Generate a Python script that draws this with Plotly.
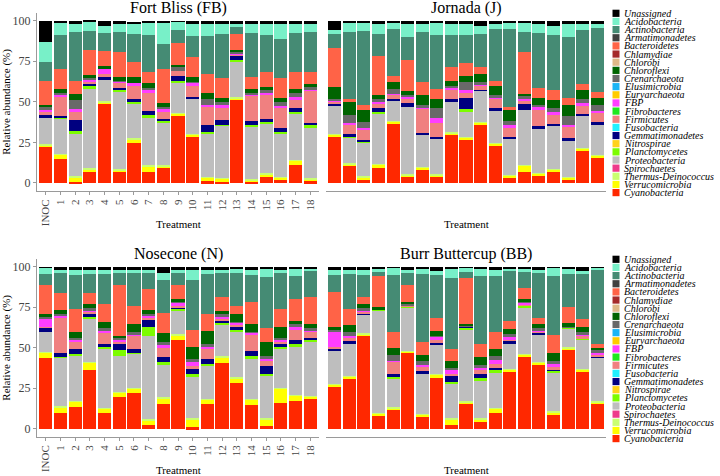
import plotly.graph_objects as go

W, H = 720, 476

treatments = ["INOC", "1", "2", "3", "4", "5", "6", "7", "8", "9",
              "10", "11", "12", "13", "14", "15", "16", "17", "18"]

# legend order (top of legend = top of stack)
taxa = ["Unassigned", "Acidobacteria", "Actinobacteria", "Armatimonadetes",
        "Bacteroidetes", "Chlamydiae", "Chlorobi", "Chloroflexi", "Crenarchaeota",
        "Elusimicrobia", "Euryarchaeota", "FBP", "Fibrobacteres", "Firmicutes",
        "Fusobacteria", "Gemmatimonadetes", "Nitrospirae", "Planctomycetes",
        "Proteobacteria", "Spirochaetes", "Thermus-Deinococcus",
        "Verrucomicrobia", "Cyanobacteria"]
taxa_colors = ["#000000", "#78F0C8", "#458B74", "#404040",
               "#FF6347", "#A52A2A", "#DEB887", "#006400", "#696969",
               "#1CB5F5", "#FFCC00", "#FF3EFF", "#1FE81F", "#F08080",
               "#22F0FF", "#000080", "#FFD21A", "#7CFC00",
               "#BEBEBE", "#EE3A8C", "#CAFF70",
               "#FFFF00", "#FF2800"]

# ---- Fort Bliss (FB)
fb_cyano = [22.5, 14.6, 0.5, 6.5, 49, 6.5, 24.5, 7, 9, 42, 28, 1, 0.5, 51.5, 0.5, 3.5, 1.5, 11, 1]
fb_verruco = [1, 3, 3, 2, 1, 1.5, 2.5, 3.5, 1.5, 1, 2, 2.5, 2.5, 1, 1.5, 2, 2, 3, 1.5]
fb_thermus = [0.3, 0.3, 0.5, 0.5, 0.3, 0.3, 0.5, 0.3, 0.3, 0.3, 0.3, 0.3, 0.3, 0.3, 0.3, 0.3, 0.3, 0.3, 0.3]
fb_proteo = [16.5, 22, 27, 49, 14, 48.5, 22, 30, 26.7, 18.7, 21.7, 26.7, 32.2, 22.2, 32.7, 31.2, 26.7, 28.7, 31.7]
fb_plancto = [0.3, 0.3, 1, 1.5, 0, 0.2, 0.5, 1, 1, 1, 0, 1, 0.5, 1, 0.5, 0.5, 1, 1, 1]
fb_gemmat = [1, 1.3, 7, 1.5, 0.7, 1.5, 1.5, 2.5, 1, 3, 1, 4.5, 2.5, 2, 2.5, 2, 2.5, 2, 1.5]
fb_firmic = [2, 11.5, 5, 2, 2, 3.5, 9, 11, 4.5, 3, 7, 10.5, 8.5, 1.5, 15.5, 15, 12.5, 5, 19.5]
fb_fbp = [2, 1.5, 1.5, 1, 3, 0.5, 1, 2, 2, 0, 2, 1.5, 1, 0.5, 1.5, 1.5, 1, 2, 1.5]
fb_crenarch = [1, 1, 5.5, 0.5, 0, 0.5, 0, 1.5, 1, 2.5, 0.5, 4, 2, 0.5, 0.5, 1, 2.5, 2.5, 1]
fb_chlorofl = [1.5, 2.5, 3.6, 2, 2, 2, 3.5, 2.5, 2, 1.5, 2.5, 3.5, 2.5, 1.5, 2.5, 2, 2.5, 2.5, 2]
fb_bacter = [15, 12, 8.4, 15.5, 9.5, 15.5, 9.5, 7, 21.5, 13.5, 12.5, 11.5, 12, 9.5, 7, 9.5, 12, 10.5, 7.5]
fb_actino = [11.5, 21, 30, 11.5, 11, 12.5, 17, 23, 15, 8, 13, 23.5, 27.5, 4.5, 27.5, 22.5, 24.5, 24, 24.5]
fb_acido = [12.5, 7.5, 5.8, 6, 4, 5.8, 6.5, 7, 13, 5, 7.5, 8.3, 6.8, 2, 6.3, 7.8, 9.8, 6.3, 5.8]
fb_unassigned = [12.5, 1.5, 1.2, 1, 3.5, 1.2, 1.5, 1.5, 1.5, 0.5, 2, 1.2, 1.2, 2, 1.2, 1.2, 1.2, 1.2, 1.2]

# ---- Jornada (J)
jo_cyano = [29, 11, 2.5, 9, 37, 4, 8.5, 4, 30, 26.5, 36, 23.5, 3.5, 7, 4.5, 7.5, 2.5, 20.5, 16]
jo_verruco = [1, 0.5, 1, 2.5, 1, 1, 1, 1, 1, 1.5, 1.5, 1, 1, 4, 1.5, 1, 1, 1, 1]
jo_thermus = [0.3, 0.5, 0.5, 0.3, 0.3, 0.3, 0.3, 0.3, 0.3, 0.3, 0.3, 0.3, 0.3, 0.3, 0.3, 0.3, 0.3, 0.3, 0.3]
jo_proteo = [17.5, 16.5, 21, 31.2, 12.7, 41.7, 20.2, 22.2, 18.7, 15.7, 19.2, 20.2, 22.2, 33.7, 27.2, 26.7, 22.2, 19.7, 19.2]
jo_plancto = [0, 0.5, 0.5, 0.5, 0, 0, 0, 0, 0, 1.5, 0, 0, 0, 0, 0, 0, 0, 0, 0]
jo_gemmat = [0.7, 1, 1, 2.5, 1, 2.5, 1, 1, 1.5, 7, 0.5, 1, 1.5, 3.5, 1.5, 1, 1.5, 1, 1]
jo_firmic = [2, 6, 6.5, 2.5, 2.5, 2.5, 15, 8.5, 5.5, 3.5, 2, 5.5, 6, 2, 10, 6, 7.5, 5.5, 6]
jo_fbp = [0.5, 1, 1, 1.5, 0.5, 1, 1, 3, 1.5, 1, 1.5, 1.5, 1, 1.5, 1.5, 1, 1, 1, 1]
jo_crenarch = [0.5, 5, 3.5, 1.5, 3, 1.5, 1, 6, 1.5, 5.5, 1, 1, 2.5, 1.5, 1.5, 2.5, 5, 3, 3.5]
jo_chlorofl = [7.5, 8, 7.5, 2.5, 4, 2, 6, 6, 3, 3.5, 5, 6, 7, 1.5, 4.5, 5, 7, 5, 4.5]
jo_bacter = [24, 2, 3, 24.5, 4, 19.5, 8, 6, 8.5, 8, 4.5, 3, 1.5, 25.5, 6, 6.5, 4.5, 4, 3.5]
jo_actino = [8.5, 41, 45.5, 13, 29, 14, 31, 33, 19.5, 17, 20.5, 32, 48.5, 12.5, 34, 33.5, 37.5, 33.5, 39.5]
jo_acido = [2.5, 5.5, 5, 7.3, 3.5, 8.8, 5.8, 7.5, 7.8, 6.8, 5, 3.8, 3.5, 5.5, 6.3, 6, 8.8, 4.3, 3.3]
jo_unassigned = [6, 1.5, 1.5, 1.2, 1.5, 1.2, 1.2, 1.5, 1.2, 2.2, 3, 1.2, 1.5, 1.5, 1.2, 3, 1.2, 1.2, 1.2]

# ---- Nosecone (N)
no_cyano = [43.5, 10, 13.5, 36.5, 9.5, 19.5, 22, 2.5, 15.5, 55, 1, 15, 40.5, 28, 14.5, 1.5, 16, 17, 18.5]
no_verruco = [3.5, 3.5, 3.5, 4.5, 3, 3, 3, 3, 3.5, 3, 5, 3, 4, 3.5, 3.5, 4.5, 9, 3.5, 1.5]
no_thermus = [0.3, 0.3, 0.3, 0.3, 0.3, 0.3, 0.3, 0.3, 0.3, 0.3, 0.3, 0.3, 0.3, 0.3, 0.3, 0.3, 0.3, 0.3, 0.3]
no_proteo = [12.7, 30.2, 28.2, 26.7, 36.7, 22.2, 21.2, 51.2, 20.7, 15.2, 25.7, 21.2, 19.7, 28.2, 24.7, 26.7, 23.7, 30.2, 33.7]
no_plancto = [0, 0.5, 0.5, 1, 1, 3.5, 0.5, 5.5, 1, 1, 1.5, 0.5, 0.5, 1, 2, 1, 1.5, 1, 0.5]
no_gemmat = [2.5, 2, 3, 1.5, 2, 3.5, 2.5, 5, 3, 0.5, 4, 3, 2, 2.5, 3, 4.5, 2, 3, 1.5]
no_firmic = [0.5, 22, 5, 2, 6.5, 1.5, 8, 1, 6.5, 0.5, 1, 6, 1, 1, 10.5, 3, 1.5, 6.5, 4]
no_fbp = [5.5, 1.5, 1, 1, 1.5, 1.5, 1, 1.5, 1, 2, 3.5, 2, 1.5, 1, 1, 1.5, 1, 1, 1]
no_crenarch = [0.5, 1, 1, 1, 1.5, 1, 1, 1, 2, 1.5, 1, 1, 1, 0.5, 0.5, 2, 1, 2, 1]
no_chlorofl = [1.5, 2.5, 3.5, 2.5, 4, 1.5, 5, 2.5, 5.5, 1, 7.5, 8.5, 2, 5, 4.5, 8.5, 6.5, 2, 2.5]
no_bacter = [18.5, 10, 14.5, 7, 11, 31, 11.5, 12.5, 12.5, 9, 10.5, 10, 8.5, 5, 14, 8.5, 11.5, 13.5, 17]
no_actino = [6.5, 12.5, 21, 11.5, 18.5, 7.5, 20, 10, 20, 7, 30.5, 25, 15, 20, 16.5, 31.5, 22, 14.5, 16]
no_acido = [4, 2.8, 3.8, 3.3, 3.3, 2.8, 2.8, 2.8, 4.5, 2, 7.3, 3.3, 2.8, 2.5, 3.8, 5.5, 2.8, 4, 1.8]
no_unassigned = [0.5, 1.2, 1.2, 1.2, 1.2, 1.2, 1.2, 1.2, 4, 2, 1.2, 1.2, 1.2, 1.5, 1.2, 1, 1.2, 1.5, 0.7]

# ---- Burr Buttercup (BB)
bb_cyano = [26, 30.5, 58, 8.5, 11.5, 47, 8, 31, 2.5, 15, 4, 10, 35.5, 45, 40, 8.5, 49, 35.5, 15.5]
bb_verruco = [1.5, 2, 0.5, 1, 1.5, 0.8, 1, 2.5, 3.5, 1.5, 2, 2.5, 1, 1, 1, 2, 1, 1, 1]
bb_thermus = [0.3, 0.3, 0.3, 0.3, 0.3, 0.3, 0.3, 0.3, 0.3, 0.3, 0.3, 0.3, 0.3, 0.3, 0.3, 0.3, 0.3, 0.3, 0.3]
bb_proteo = [20.2, 20.2, 11.7, 63.2, 17.7, 26.9, 24.7, 18.2, 21.7, 44.7, 23.7, 22.2, 16.2, 28.7, 17.2, 24.2, 11.7, 18.2, 27.7]
bb_plancto = [0, 0, 0, 1, 1, 0.5, 0, 0, 1, 1, 1, 1, 0, 0.5, 0, 0.5, 0.5, 0.5, 0]
bb_gemmat = [2, 1, 1, 0, 2, 0, 1.5, 1, 3.5, 1, 3, 1.5, 1, 0, 1, 1.5, 0, 0, 0.5]
bb_firmic = [0.5, 2.5, 1, 0, 7.5, 0.5, 3, 2, 1.5, 0, 2.5, 2.5, 1.5, 1.5, 0.5, 1, 0, 2, 1]
bb_fbp = [10, 1, 1, 0, 0.5, 0.5, 1, 2, 2, 0, 1, 2.5, 1, 1, 1, 2, 0, 0.5, 1]
bb_crenarch = [1, 2.5, 1, 0, 3.5, 1, 2.5, 0.5, 1.5, 0.5, 2, 2.5, 2, 1, 1, 2, 0.5, 1.5, 1.5]
bb_chlorofl = [1, 4, 2.5, 1, 4.5, 1, 3.5, 3, 4.5, 0.5, 4.5, 4, 3, 1, 2.5, 4.5, 2, 3.5, 1.5]
bb_bacter = [22, 10, 4, 19.5, 10, 10.5, 8, 8, 7.5, 28.5, 8.5, 11, 5, 7, 4, 11.5, 10, 5, 2]
bb_actino = [10.5, 21.5, 14, 2.5, 35, 7, 42, 26.5, 43.5, 4, 41.5, 34, 31, 10, 27.5, 36.5, 20.5, 27.5, 46.5]
bb_acido = [3.8, 3.3, 3.8, 2, 4.5, 2, 3.5, 2.5, 6, 2.5, 5, 4.8, 1.8, 2.3, 2.8, 5, 3.8, 2, 1]
bb_unassigned = [1.2, 1.2, 1.2, 1, 0.5, 2, 1, 2.5, 1, 0.5, 1, 1.2, 0.7, 0.7, 1.2, 0.5, 0.7, 2.5, 0.5]


def panel_data(cy, ve, th, pr, pl, ge, fi, fb, cr, cf, ba, ac, ad, un):
    return {"Cyanobacteria": cy, "Verrucomicrobia": ve, "Thermus-Deinococcus": th,
            "Proteobacteria": pr, "Planctomycetes": pl, "Gemmatimonadetes": ge,
            "Firmicutes": fi, "FBP": fb, "Crenarchaeota": cr, "Chloroflexi": cf,
            "Bacteroidetes": ba, "Actinobacteria": ac, "Acidobacteria": ad,
            "Unassigned": un}


panels = [
    ("Fort Bliss (FB)", panel_data(fb_cyano, fb_verruco, fb_thermus, fb_proteo, fb_plancto, fb_gemmat,
                                   fb_firmic, fb_fbp, fb_crenarch, fb_chlorofl, fb_bacter, fb_actino,
                                   fb_acido, fb_unassigned)),
    ("Jornada (J)", panel_data(jo_cyano, jo_verruco, jo_thermus, jo_proteo, jo_plancto, jo_gemmat,
                               jo_firmic, jo_fbp, jo_crenarch, jo_chlorofl, jo_bacter, jo_actino,
                               jo_acido, jo_unassigned)),
    ("Nosecone (N)", panel_data(no_cyano, no_verruco, no_thermus, no_proteo, no_plancto, no_gemmat,
                                no_firmic, no_fbp, no_crenarch, no_chlorofl, no_bacter, no_actino,
                                no_acido, no_unassigned)),
    ("Burr Buttercup (BB)", panel_data(bb_cyano, bb_verruco, bb_thermus, bb_proteo, bb_plancto, bb_gemmat,
                                       bb_firmic, bb_fbp, bb_crenarch, bb_chlorofl, bb_bacter, bb_actino,
                                       bb_acido, bb_unassigned)),
]

SERIF = "Liberation Serif, Times New Roman, serif"
AXIS_GREY = "#9a9a9a"

# pixel boxes of the four plot areas (left, right, top, bottom)
boxes = [(37, 319, 12.6, 191), (326, 606, 12.6, 191),
         (37, 319, 258.6, 436.8), (326, 606, 258.6, 436.8)]

fig = go.Figure()
color_of = dict(zip(taxa, taxa_colors))

for k, (title, data) in enumerate(panels):
    xa = "x" if k == 0 else f"x{k + 1}"
    ya = "y" if k == 0 else f"y{k + 1}"
    for name in reversed(taxa):
        if name not in data:
            continue
        fig.add_trace(go.Bar(x=treatments, y=data[name], name=name, xaxis=xa, yaxis=ya,
                             marker=dict(color=color_of[name], line=dict(width=0)),
                             showlegend=False))

layout = {}
annotations = []
for k, (title, data) in enumerate(panels):
    l, r, t, b = boxes[k]
    left_col = (k % 2 == 0)
    sfx = "" if k == 0 else str(k + 1)
    layout["xaxis" + sfx] = dict(
        domain=[l / W, r / W], anchor="y" + sfx, type="category",
        range=[-0.6, 18.6], tickangle=-90, showline=True, linecolor=AXIS_GREY,
        linewidth=1, ticks="outside" if left_col else "", ticklen=3, tickcolor=AXIS_GREY,
        showticklabels=left_col, showgrid=False, zeroline=False,
        tickfont=dict(family=SERIF, size=11, color="#444"))
    layout["yaxis" + sfx] = dict(
        domain=[(H - b) / H, (H - t) / H], anchor="x" + sfx, range=[-5, 105],
        tickvals=[0, 25, 50, 75, 100], showline=left_col, linecolor=AXIS_GREY,
        linewidth=1, ticks="outside" if left_col else "", ticklen=3, tickcolor=AXIS_GREY,
        showticklabels=left_col, showgrid=False, zeroline=False,
        tickfont=dict(family=SERIF, size=12, color="#444"))
    cx = (l + r) / 2
    annotations.append(dict(text=title, x=cx / W, y=(H - (t - 4.5)) / H, xref="paper", yref="paper",
                            xanchor="center", yanchor="middle", showarrow=False,
                            font=dict(family=SERIF, size=16, color="black")))
    annotations.append(dict(text="Treatment", x=cx / W, y=(H - (b + 33)) / H, xref="paper",
                            yref="paper", xanchor="center", yanchor="middle", showarrow=False,
                            font=dict(family=SERIF, size=11, color="black")))
    if left_col:
        annotations.append(dict(text="Relative abundance (%)", x=7 / W, y=(H - (t + b) / 2) / H,
                                xref="paper", yref="paper", xanchor="center", yanchor="middle",
                                textangle=-90, showarrow=False,
                                font=dict(family=SERIF, size=11, color="black")))

# hand-drawn legends (one per row)
shapes = []
for y_first in (13.3, 259.3):
    for i, (name, col) in enumerate(zip(taxa, taxa_colors)):
        yc = y_first + i * 8.15
        shapes.append(dict(type="rect", xref="paper", yref="paper",
                           x0=612.5 / W, x1=619.5 / W, y0=(H - yc - 3.6) / H, y1=(H - yc + 3.6) / H,
                           fillcolor=col, line=dict(width=0)))
        annotations.append(dict(text=f"<i>{name}</i>", x=621.5 / W, y=(H - yc) / H,
                                xref="paper", yref="paper", xanchor="left", yanchor="middle",
                                showarrow=False,
                                font=dict(family=SERIF, size=10, color="black")))

fig.update_layout(
    template="none", width=W, height=H, barmode="stack", bargap=0.1,
    margin=dict(l=0, r=0, t=0, b=0), paper_bgcolor="white", plot_bgcolor="white",
    showlegend=False, annotations=annotations, shapes=shapes, **layout)

# drop the browser's default 8px body margin so the figure fills the window
fig.write_html("out.html", config={"displayModeBar": False},
               post_script="document.body.style.margin='0';")
